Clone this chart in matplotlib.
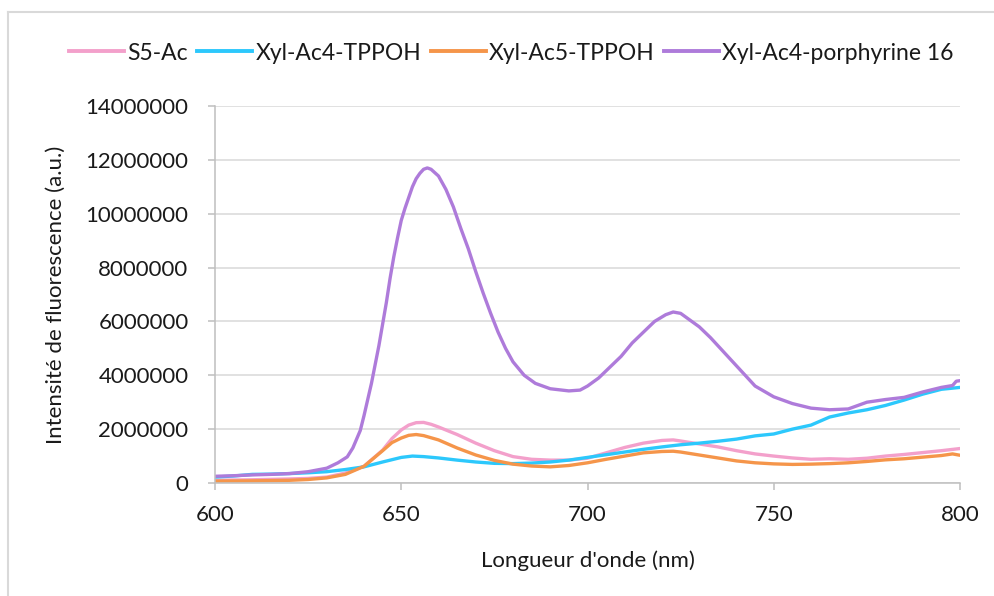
import matplotlib
matplotlib.use("Agg")
import matplotlib.pyplot as plt
from matplotlib.lines import Line2D

plt.rcParams['font.family'] = ['Lato', 'DejaVu Sans']

# ---- data (values in millions) ----
wl_s5 = [600, 610, 620, 625, 630, 635, 640, 645, 647.5, 650, 652, 654, 656, 658, 660, 665, 670, 675, 680,
         685, 690, 695, 700, 705, 710, 715, 720, 723, 725, 730, 735, 740, 745, 750, 755, 760, 765, 770,
         775, 780, 785, 790, 795, 800]
s5_ac = [0.10, 0.12, 0.15, 0.17, 0.22, 0.37, 0.62, 1.22, 1.65, 1.97, 2.15, 2.24, 2.25, 2.18, 2.08, 1.80,
         1.48, 1.20, 0.98, 0.88, 0.85, 0.85, 0.92, 1.12, 1.32, 1.48, 1.58, 1.60, 1.56, 1.45, 1.34, 1.20,
         1.08, 1.00, 0.93, 0.88, 0.90, 0.88, 0.92, 1.00, 1.06, 1.13, 1.20, 1.28]

wl_ac4 = [600, 605, 610, 615, 620, 625, 630, 635, 640, 645, 650, 653, 656, 660, 665, 670, 675, 680, 685,
          690, 695, 700, 705, 710, 715, 720, 725, 730, 735, 740, 745, 750, 755, 760, 765, 770, 775, 780,
          785, 790, 795, 800]
xyl_ac4 = [0.22, 0.26, 0.32, 0.33, 0.35, 0.38, 0.42, 0.50, 0.60, 0.78, 0.95, 1.00, 0.98, 0.93, 0.85, 0.78,
           0.73, 0.72, 0.74, 0.78, 0.85, 0.95, 1.05, 1.15, 1.25, 1.34, 1.42, 1.48, 1.55, 1.63, 1.75, 1.82,
           2.00, 2.15, 2.45, 2.60, 2.72, 2.88, 3.08, 3.30, 3.48, 3.55]

wl_ac5 = [600, 610, 620, 625, 630, 635, 640, 645, 647.5, 650, 652, 654, 656, 658, 660, 665, 670, 675, 680,
          685, 690, 695, 700, 705, 710, 715, 720, 723, 725, 730, 735, 740, 745, 750, 755, 760, 765, 770,
          775, 780, 785, 790, 795, 798, 800]
xyl_ac5 = [0.07, 0.08, 0.10, 0.13, 0.19, 0.32, 0.62, 1.20, 1.50, 1.67, 1.77, 1.80, 1.76, 1.68, 1.60, 1.30,
           1.04, 0.84, 0.70, 0.63, 0.60, 0.65, 0.75, 0.88, 1.00, 1.12, 1.17, 1.18, 1.15, 1.04, 0.93, 0.82,
           0.75, 0.71, 0.69, 0.70, 0.72, 0.75, 0.80, 0.86, 0.90, 0.96, 1.02, 1.08, 1.03]

wl_por = [600, 605, 610, 615, 620, 625, 630, 633, 635.5, 637, 639, 640, 641, 642, 643, 644, 645, 646, 647,
          648, 649, 650, 651, 652, 653, 654, 655, 656, 657, 658, 660, 662, 664, 666, 668, 670, 672, 674,
          676, 678, 680, 683, 686, 690, 695, 698, 700, 703, 706, 709, 712, 715, 718, 721, 723, 725, 727,
          730, 733, 736, 740, 745, 750, 755, 760, 765, 770, 775, 780, 785, 790, 795, 798, 799, 800]
xyl_por = [0.25, 0.27, 0.30, 0.32, 0.35, 0.42, 0.55, 0.75, 0.97, 1.30, 1.95, 2.50, 3.10, 3.70, 4.40, 5.10,
           5.90, 6.70, 7.60, 8.40, 9.10, 9.75, 10.20, 10.60, 11.00, 11.30, 11.50, 11.65, 11.70, 11.65,
           11.40, 10.90, 10.25, 9.45, 8.70, 7.85, 7.05, 6.30, 5.60, 5.00, 4.50, 4.00, 3.70, 3.50, 3.42,
           3.45, 3.60, 3.90, 4.30, 4.70, 5.20, 5.60, 6.00, 6.25, 6.35, 6.30, 6.10, 5.80, 5.40, 4.95, 4.35,
           3.60, 3.20, 2.95, 2.78, 2.72, 2.75, 3.00, 3.10, 3.18, 3.38, 3.55, 3.62, 3.78, 3.80]

labels = ["S5-Ac", "Xyl-Ac4-TPPOH", "Xyl-Ac5-TPPOH", "Xyl-Ac4-porphyrine 16"]
colors = ["#F3A0CB", "#2CC8FC", "#F5954A", "#AE7BDA"]
x_ticks = [600, 650, 700, 750, 800]
y_ticks = [0, 2000000, 4000000, 6000000, 8000000, 10000000, 12000000, 14000000]

series = [(wl_s5, s5_ac), (wl_ac4, xyl_ac4), (wl_ac5, xyl_ac5), (wl_por, xyl_por)]

fig = plt.figure(figsize=(9.95, 5.96), dpi=100)
ax = fig.add_axes([215/995, 1-483/596, (960-215)/995, (483-106)/596])

for (x, y), lab, c in zip(series, labels, colors):
    ax.plot(x, [v*1e6 for v in y], color=c, lw=2.4, label=lab, solid_capstyle='round',
            solid_joinstyle='round')

ax.set_xlim(600, 800)
ax.set_ylim(0, 14000000)
ax.set_xticks(x_ticks)
ax.set_yticks(y_ticks)
ax.set_yticklabels([str(v) for v in y_ticks])
ax.grid(axis='y', color='#D9D9D9', lw=1.1)
ax.set_axisbelow(True)
for s in ['top', 'right']:
    ax.spines[s].set_visible(False)
for s in ['left', 'bottom']:
    ax.spines[s].set_color('#BFBFBF')
    ax.spines[s].set_linewidth(1.1)
ax.tick_params(axis='both', colors='#BFBFBF', length=5, width=1.1, labelsize=16, labelcolor='#1a1a1a')
ax.tick_params(axis='y', pad=14)
ax.tick_params(axis='x', pad=11)

ax.set_xlabel("Longueur d'onde (nm)", fontsize=16, color='#1a1a1a', labelpad=18)
ax.set_ylabel("Intensité de fluorescence (a.u.)", fontsize=16, color='#1a1a1a', labelpad=14)

handles = [Line2D([0], [0], color=c, lw=2.8) for c in colors]
fig.legend(handles, labels, loc='center', bbox_to_anchor=(0.514, 1-53/596), ncol=4, frameon=False,
           fontsize=16.5, handlelength=2.4, handletextpad=0.15, columnspacing=0.4, labelcolor='#1a1a1a')

# outer chart border (left and top visible)
fig.add_artist(Line2D([8/995, 8/995], [0, 1-12/596], transform=fig.transFigure, color='#D9D9D9', lw=1.5))
fig.add_artist(Line2D([8/995, 1], [1-12/596, 1-12/596], transform=fig.transFigure, color='#D9D9D9', lw=1.5))

fig.savefig("out.png", dpi=100)
